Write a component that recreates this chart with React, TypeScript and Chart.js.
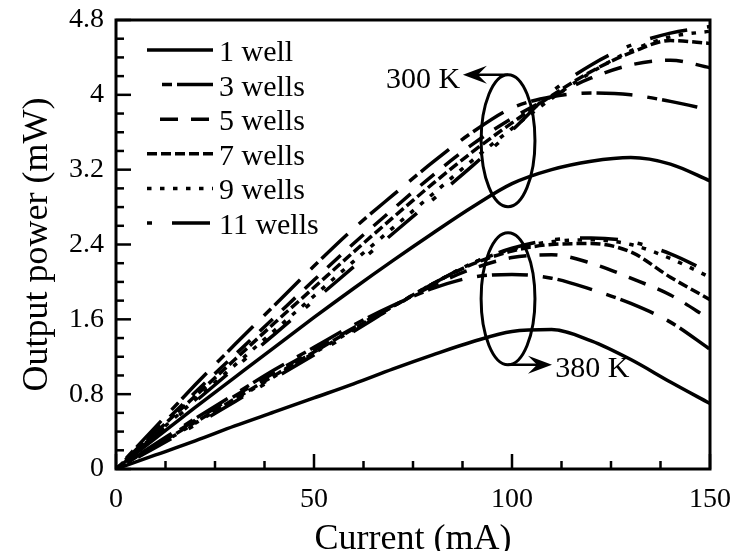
import { useEffect, useRef } from 'react';
import { Chart, registerables } from 'chart.js';

Chart.register(...registerables);

// Injection current (mA)
const currents = [0, 10, 20, 30, 40, 50, 60, 70, 80, 90, 100, 110, 120, 130, 140, 150];

// Output power (mW) at 300 K
const p300_1 = [0, 0.33, 0.66, 0.98, 1.3, 1.62, 1.93, 2.23, 2.52, 2.8, 3.05, 3.2, 3.29, 3.33, 3.26, 3.08];
const p300_3 = [0, 0.45, 0.9, 1.33, 1.75, 2.17, 2.57, 2.93, 3.28, 3.6, 3.86, 3.98, 4.02, 4.0, 3.93, 3.84];
const p300_5 = [0, 0.41, 0.82, 1.22, 1.62, 2.02, 2.41, 2.78, 3.14, 3.47, 3.75, 3.98, 4.18, 4.32, 4.37, 4.29];
const p300_7 = [0, 0.39, 0.78, 1.17, 1.56, 1.94, 2.32, 2.69, 3.05, 3.39, 3.7, 3.99, 4.25, 4.45, 4.58, 4.55];
const p300_9 = [0, 0.37, 0.74, 1.11, 1.48, 1.85, 2.22, 2.58, 2.94, 3.3, 3.64, 3.96, 4.24, 4.47, 4.62, 4.68];
const p300_11 = [0, 0.36, 0.72, 1.08, 1.44, 1.8, 2.16, 2.52, 2.88, 3.24, 3.62, 4.03, 4.32, 4.53, 4.66, 4.73];

// Output power (mW) at 380 K
const p380_1 = [0, 0.15, 0.3, 0.46, 0.61, 0.76, 0.91, 1.07, 1.22, 1.36, 1.47, 1.49, 1.37, 1.17, 0.93, 0.7];
const p380_3 = [0, 0.27, 0.54, 0.8, 1.06, 1.3, 1.54, 1.75, 1.93, 2.05, 2.08, 2.04, 1.92, 1.77, 1.57, 1.28];
const p380_5 = [0, 0.26, 0.52, 0.78, 1.03, 1.27, 1.51, 1.74, 1.96, 2.14, 2.26, 2.29, 2.2, 2.04, 1.86, 1.6];
const p380_7 = [0, 0.25, 0.5, 0.75, 1.0, 1.25, 1.5, 1.74, 1.98, 2.19, 2.33, 2.4, 2.41, 2.32, 2.05, 1.81];
const p380_9 = [0, 0.24, 0.49, 0.74, 0.99, 1.24, 1.49, 1.74, 1.98, 2.2, 2.35, 2.43, 2.45, 2.4, 2.25, 2.05];
const p380_11 = [0, 0.23, 0.47, 0.72, 0.97, 1.22, 1.47, 1.73, 1.98, 2.2, 2.36, 2.45, 2.47, 2.43, 2.3, 2.1];

const wellLabels = ['1 well', '3 wells', '5 wells', '7 wells', '9 wells', '11 wells'];
const series300 = [p300_1, p300_3, p300_5, p300_7, p300_9, p300_11];
const series380 = [p380_1, p380_3, p380_5, p380_7, p380_9, p380_11];

const xTickValues = [0, 50, 100, 150];
const yTickValues = [0, 0.8, 1.6, 2.4, 3.2, 4, 4.8];
const yTickLabels = ['0', '0.8', '1.6', '2.4', '3.2', '4', '4.8'];

// line styles, one per well count
const dashPatterns: number[][] = [[], [10, 5, 36, 15], [18, 13], [10, 4], [4.5, 8.5], [5, 20, 38, 20]];
const dashOffsets = [0, 51, 18, 0, 0, 0];

const SERIF = "'Liberation Serif', 'Times New Roman', serif";

const zeroPadding = (s: any) => {
  s.paddingLeft = 0;
  s.paddingRight = 0;
  s.paddingTop = 0;
  s.paddingBottom = 0;
};

const decorations = {
  id: 'decorations',
  afterDraw(chart: any) {
    const { ctx, chartArea: a, scales } = chart;
    const xs = scales.x;
    const ys = scales.y;
    ctx.save();
    ctx.strokeStyle = '#000';
    ctx.fillStyle = '#000';
    ctx.setLineDash([]);

    // frame
    ctx.lineWidth = 3;
    ctx.strokeRect(a.left, a.top, a.right - a.left, a.bottom - a.top);

    // inward ticks
    ctx.lineWidth = 2.5;
    for (let v = 0; v <= 150.001; v += 12.5) {
      const px = xs.getPixelForValue(v);
      const major = Math.abs(v % 50) < 1e-6;
      ctx.beginPath();
      ctx.moveTo(px, a.bottom);
      ctx.lineTo(px, a.bottom - (major ? 15 : 8));
      ctx.stroke();
    }
    for (let i = 0; i <= 24; i++) {
      const v = i * 0.2;
      const py = ys.getPixelForValue(v);
      const major = i % 4 === 0;
      ctx.beginPath();
      ctx.moveTo(a.left, py);
      ctx.lineTo(a.left + (major ? 15 : 8), py);
      ctx.stroke();
    }

    // temperature ellipses
    const cx = xs.getPixelForValue(99);
    const rx = xs.getPixelForValue(105.8) - cx;
    const ell = (cv: number) => {
      const cy = ys.getPixelForValue(cv);
      const ry = cy - ys.getPixelForValue(cv + 0.706);
      ctx.beginPath();
      ctx.ellipse(cx, cy, rx, ry, 0, 0, Math.PI * 2);
      ctx.lineWidth = 3;
      ctx.stroke();
      return { cy, ry };
    };
    const e300 = ell(3.51);
    const e380 = ell(1.82);

    const arrow = (x0: number, x1: number, y: number) => {
      const dir = Math.sign(x1 - x0);
      ctx.lineWidth = 2.5;
      ctx.beginPath();
      ctx.moveTo(x0, y);
      ctx.lineTo(x1 - dir * 10, y);
      ctx.stroke();
      ctx.beginPath();
      ctx.moveTo(x1, y);
      ctx.lineTo(x1 - dir * 24, y - 9);
      ctx.lineTo(x1 - dir * 15, y);
      ctx.lineTo(x1 - dir * 24, y + 9);
      ctx.closePath();
      ctx.fill();
    };
    const top300 = e300.cy - e300.ry;
    arrow(cx, xs.getPixelForValue(87.6), top300);
    const bot380 = e380.cy + e380.ry;
    arrow(cx, xs.getPixelForValue(110.1), bot380);

    ctx.font = `30px ${SERIF}`;
    ctx.textBaseline = 'alphabetic';
    ctx.textAlign = 'right';
    ctx.fillText('300 K', xs.getPixelForValue(86.9), top300 + 13);
    ctx.textAlign = 'left';
    ctx.fillText('380 K', xs.getPixelForValue(110.9), bot380 + 12);

    // legend
    const ds = chart.data.datasets;
    for (let i = 0; i < wellLabels.length; i++) {
      const y = 50 + i * 34.6;
      const d = ds[i];
      ctx.setLineDash(d.borderDash || []);
      ctx.lineDashOffset = d.borderDashOffset || 0;
      ctx.lineWidth = d.borderWidth;
      ctx.beginPath();
      ctx.moveTo(147, y);
      ctx.lineTo(213, y);
      ctx.stroke();
      ctx.setLineDash([]);
      ctx.lineDashOffset = 0;
      ctx.textAlign = 'left';
      ctx.fillText(wellLabels[i], 219, y + 11);
    }
    ctx.restore();
  },
};

export default function App() {
  const ref = useRef<HTMLCanvasElement | null>(null);

  useEffect(() => {
    if (!ref.current) return;
    const mk = (vals: number[], i: number, temp: string) => ({
      label: `${wellLabels[i]} ${temp}`,
      data: currents.map((c, k) => ({ x: c, y: vals[k] })),
      borderColor: '#000',
      backgroundColor: '#000',
      borderWidth: 3.5,
      borderDash: dashPatterns[i],
      borderDashOffset: dashOffsets[i],
      pointRadius: 0,
      fill: false,
      cubicInterpolationMode: 'monotone' as const,
    });
    const datasets = [
      ...series300.map((s, i) => mk(s, i, '300 K')),
      ...series380.map((s, i) => mk(s, i, '380 K')),
    ];

    const chart = new Chart(ref.current, {
      type: 'line',
      data: { datasets },
      options: {
        animation: false,
        responsive: false,
        devicePixelRatio: 1,
        layout: { padding: { top: 20, right: 23, bottom: 0, left: 0 } },
        plugins: { legend: { display: false }, tooltip: { enabled: false } },
        scales: {
          x: {
            type: 'linear',
            min: 0,
            max: 150,
            afterBuildTicks: (s: any) => {
              s.ticks = xTickValues.map((v) => ({ value: v }));
            },
            afterFit: (s: any) => {
              s.height = 82;
              zeroPadding(s);
            },
            grid: { display: false, drawTicks: false },
            border: { display: false },
            ticks: {
              color: '#000',
              padding: 14,
              maxRotation: 0,
              font: { family: SERIF, size: 28 },
              callback: (v: any) => String(v),
            },
            title: {
              display: true,
              text: 'Current (mA)',
              color: '#000',
              font: { family: SERIF, size: 36, lineHeight: 0.65 },
              padding: { top: 0, bottom: 0 },
            },
          },
          y: {
            type: 'linear',
            min: 0,
            max: 4.8,
            afterBuildTicks: (s: any) => {
              s.ticks = yTickValues.map((v) => ({ value: v }));
            },
            afterFit: (s: any) => {
              s.width = 116;
              zeroPadding(s);
            },
            grid: { display: false, drawTicks: false },
            border: { display: false },
            ticks: {
              color: '#000',
              padding: 12,
              font: { family: SERIF, size: 28 },
              callback: (v: any) => {
                const i = yTickValues.findIndex((t) => Math.abs(t - Number(v)) < 1e-6);
                return i >= 0 ? yTickLabels[i] : '';
              },
            },
            title: {
              display: true,
              text: 'Output power (mW)',
              color: '#000',
              font: { family: SERIF, size: 36, lineHeight: 1.2 },
              padding: { top: 16, bottom: 0 },
            },
          },
        },
      },
      plugins: [decorations],
    });
    return () => chart.destroy();
  }, []);

  return (
    <div style={{ position: 'fixed', left: 0, top: 0, width: 733, height: 551, background: '#fff' }}>
      <canvas ref={ref} width={733} height={551} style={{ display: 'block' }} />
    </div>
  );
}
